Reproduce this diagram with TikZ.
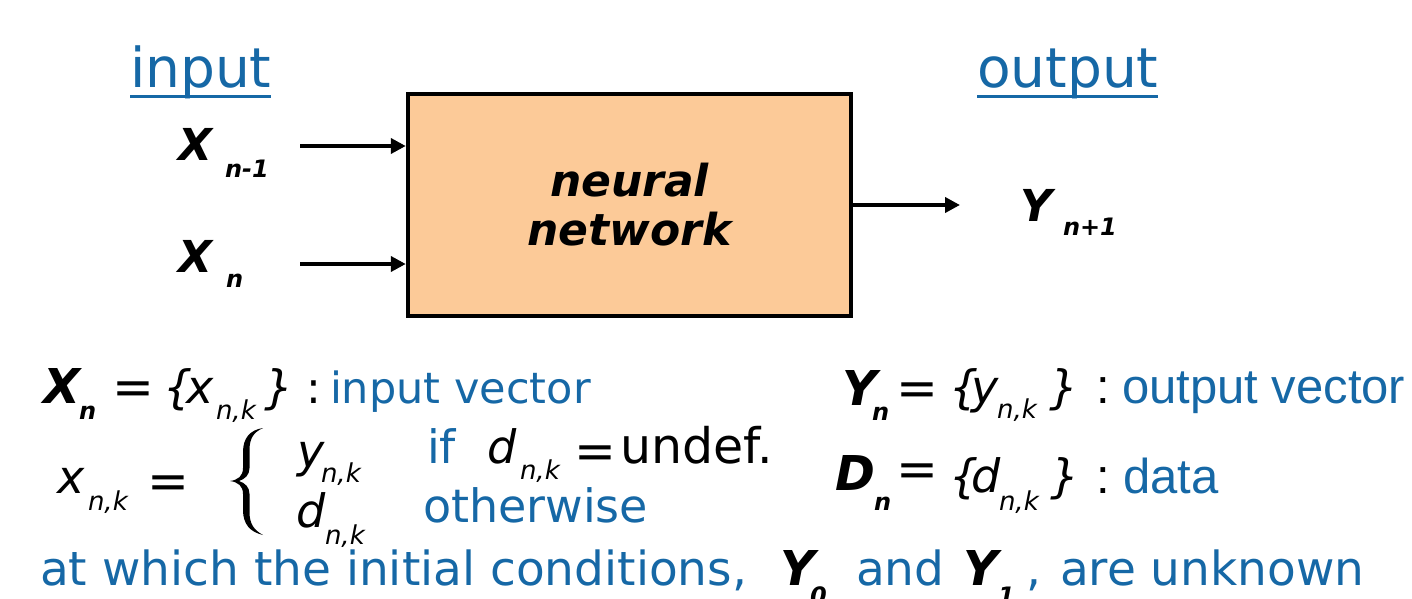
\documentclass[tikz,border=0pt]{standalone}
\usepackage{fontspec}
\setmainfont{DejaVu Sans}
\newfontfamily\arialf{Liberation Sans}
\usetikzlibrary{arrows.meta,calc}
\definecolor{hdblue}{RGB}{22,104,166}
\definecolor{nnfill}{RGB}{252,202,152}
\newcommand\fsz[1]{\fontsize{#1}{#1}\selectfont}
\begin{document}
\begin{tikzpicture}[x=0.5pt,y=-0.5pt,
  lbl/.style={inner sep=0pt,outer sep=0pt,anchor=base west},
  head/.style={lbl,text=hdblue,font=\fsz{27.5pt}},
  bigsym/.style={lbl,font=\fsz{22pt}\bfseries\itshape},
  bigsub/.style={lbl,font=\fsz{12pt}\bfseries\itshape},
  sym/.style={lbl,font=\fsz{24pt}\bfseries\itshape},
  vsym/.style={lbl,font=\fsz{23pt}\itshape},
  vsub/.style={lbl,font=\fsz{13pt}\itshape},
  rel/.style={lbl,font=\fsz{25pt}},
  colon/.style={lbl,font=\fsz{22pt}},
  note/.style={lbl,text=hdblue,font=\fsz{23pt}},
  anote/.style={lbl,text=hdblue,font=\fsz{24.5pt}\arialf},
  feed/.style={line width=2pt,-{Triangle[length=7.5pt,width=7.5pt]}}]
\useasboundingbox (0,0) rectangle (1412,599);

% headings
\node[head] (inp) at (130,88) {input};
\draw[hdblue,line width=1.5pt] ($(inp.base west)+(0,9)$) -- ($(inp.base east)+(0,9)$);
\node[head] (outp) at (977,88) {output};
\draw[hdblue,line width=1.5pt] ($(outp.base west)+(0,9)$) -- ($(outp.base east)+(0,9)$);

% network block
\node[draw,line width=2.2pt,fill=nnfill,minimum width=221.5pt,minimum height=111pt,
      align=center,font=\fsz{22pt}\bfseries\itshape] (nn) at (629.5,205)
      {neural\\[2.5pt]network};

% inputs and output
\node[bigsym] (xa) at (178,160) {X};
\node[bigsub] (xas) at (225,177) {n-1};
\node[bigsym] (xb) at (178,272) {X};
\node[bigsub] (xbs) at (226,287) {n};
\node[bigsym] (ya) at (1020,221) {Y};
\node[bigsub] (yas) at (1063,235) {n+1};
\coordinate (ina) at (300,146);
\coordinate (inb) at (300,264);
\coordinate (outa) at (960,205);
\draw[feed] (ina) -- (nn.west |- ina);
\draw[feed] (inb) -- (nn.west |- inb);
\draw[feed] (nn.east |- outa) -- (outa);

% input vector definition
\node[sym] (dX) at (43,403) {X};
\node[bigsub] (dXs) at (79,419) {n};
\node[rel] (dXe) at (112,404) {=};
\node[vsym] (dXo) at (163,403) {\{};
\node[vsym] (dXx) at (186,403) {x};
\node[vsub] (dXk) at (216,419) {n,k};
\node[vsym] (dXc) at (264,403) {\}};
\node[colon] (dXcol) at (306,403) {:};
\node[lbl,text=hdblue,font=\fsz{21.5pt}] (dXt) at (330,403) {input vector};

% component rule
\node[vsym] (cx) at (57,493) {x};
\node[vsub] (cxs) at (88,510) {n,k};
\node[rel] (cxe) at (147,498) {=};
\fill (263,428) .. controls (250,430) and (243,438) .. (243,452)
  -- (243,468) .. controls (243,476) and (238,480) .. (230,481)
  .. controls (238,482) and (243,486) .. (243,494)
  -- (243,510) .. controls (243,524) and (250,532) .. (263,535)
  .. controls (254,530) and (249.5,524) .. (249.5,512)
  -- (249.5,494) .. controls (249.5,487) and (245,483) .. (239,481)
  .. controls (245,479) and (249.5,475) .. (249.5,468)
  -- (249.5,450) .. controls (249.5,438) and (254,432) .. (263,428) -- cycle;
\node[vsym] (cy) at (297,467) {y};
\node[vsub] (cys) at (321,482) {n,k};
\node[note] (cif) at (427,463) {if};
\node[vsym] (cd) at (487,463) {d};
\node[vsub] (cds) at (520,479) {n,k};
\node[rel] (cde) at (574,468) {=};
\node[lbl,font=\fsz{24.5pt}] (cund) at (620,463) {undef.};
\node[vsym] (cd2) at (296,527) {d};
\node[vsub] (cd2s) at (325,544) {n,k};
\node[note] (cow) at (423,522) {otherwise};

% output vector and data
\node[sym] (dY) at (842,405) {Y};
\node[bigsub] (dYs) at (872,420) {n};
\node[rel] (dYe) at (896,405) {=};
\node[vsym] (dYo) at (949,403) {\{};
\node[vsym] (dYy) at (971,403) {y};
\node[vsub] (dYk) at (997,418) {n,k};
\node[vsym] (dYc) at (1049,403) {\}};
\node[lbl,font=\fsz{24.5pt}\arialf] (dYcol) at (1096,403) {:};
\node[anote] (dYt) at (1122,403) {output vector};

\node[sym] (dD) at (835,490) {D};
\node[bigsub] (dDs) at (874,510) {n};
\node[rel] (dDe) at (896,486) {=};
\node[vsym] (dDo) at (949,492) {\{};
\node[vsym] (dDd) at (971,492) {d};
\node[vsub] (dDk) at (999,510) {n,k};
\node[vsym] (dDc) at (1050,492) {\}};
\node[lbl,font=\fsz{24.5pt}\arialf] (dDcol) at (1096,493) {:};
\node[anote] (dDt) at (1123,493) {data};

% initial conditions
\node[lbl,text=hdblue,font=\fsz{23.5pt}] (ic) at (40,585) {at which the initial conditions,};
\node[sym] (ic0) at (780,585) {Y};
\node[bigsub] (ic0s) at (810,604) {0};
\node[lbl,text=hdblue,font=\fsz{23.5pt}] (icand) at (856,585) {and};
\node[sym] (ic1) at (963,585) {Y};
\node[bigsub] (ic1s) at (998,604) {1};
\node[lbl,text=hdblue,font=\fsz{23.5pt}] (iccom) at (1026,585) {,};
\node[lbl,text=hdblue,font=\fsz{23.5pt}] (icend) at (1060,585) {are unknown};
\end{tikzpicture}
\end{document}
